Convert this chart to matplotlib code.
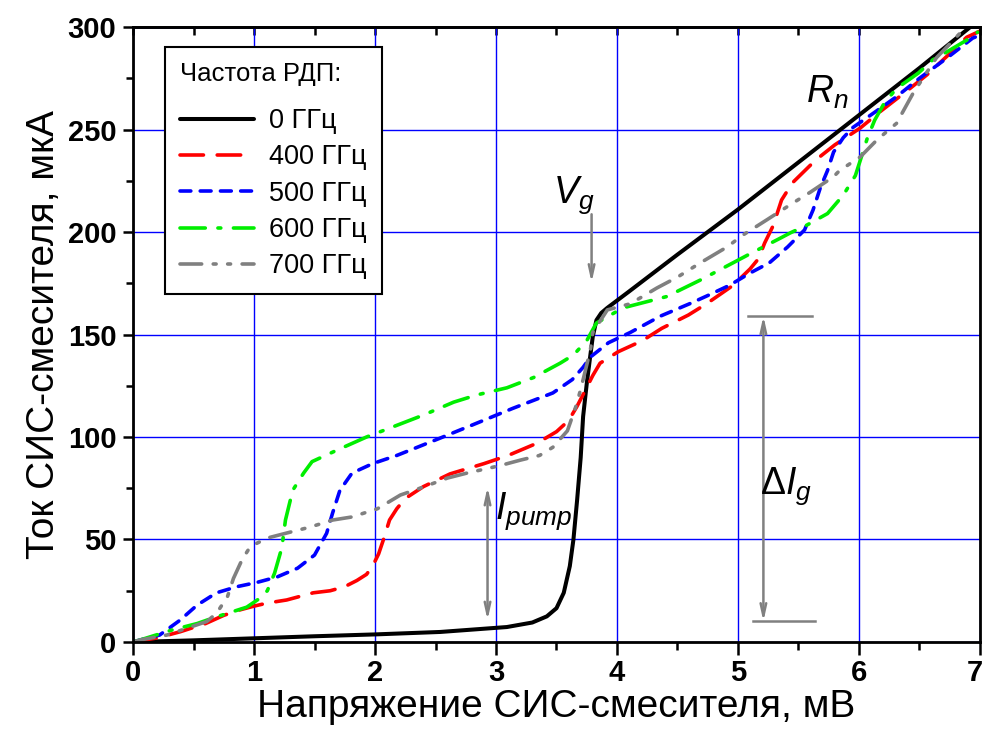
import numpy as np
import matplotlib
matplotlib.use('Agg')
import matplotlib.pyplot as plt
from matplotlib.ticker import MultipleLocator, FuncFormatter

plt.rcParams['font.family'] = ['Liberation Sans', 'DejaVu Sans']
plt.rcParams['mathtext.fontset'] = 'custom'
plt.rcParams['mathtext.it'] = 'Liberation Sans:italic'
plt.rcParams['mathtext.rm'] = 'Liberation Sans'

# ВАХ СИС-смесителя при разных частотах РДП (мВ, мкА)
V0 = [0, 0.5, 1, 1.5, 2, 2.54, 3.09, 3.3, 3.42, 3.50, 3.56, 3.61, 3.64, 3.67, 3.70,
      3.72, 3.75, 3.78, 3.80, 3.83, 3.87, 3.92, 4.1, 4.5, 5, 5.5, 6, 6.5, 6.92]
I0 = [0, 0.8, 1.8, 2.8, 3.7, 4.9, 7.3, 9.5, 12.5, 16.5, 24, 37, 50, 69, 90,
      110, 126, 140, 149, 157, 160.5, 163, 171, 189, 211, 234, 257, 280, 300]

V400 = [0, 0.2, 0.39, 0.6, 0.75, 0.88, 1.0, 1.11, 1.27, 1.49, 1.63, 1.75, 1.85,
        1.93, 1.98, 2.03, 2.07, 2.12, 2.18, 2.25, 2.40, 2.62, 2.9, 3.1, 3.34,
        3.50, 3.6, 3.67, 3.74, 3.80, 3.86, 4.01, 4.21, 4.37, 4.59, 4.74, 4.96,
        5.10, 5.17, 5.22, 5.29, 5.36, 5.45, 5.64, 5.80, 6.01, 6.17, 6.40, 6.56,
        6.75, 6.89, 7.0]
I400 = [0, 2, 5, 9, 13, 15.6, 17.5, 19, 20.5, 24, 25, 27, 30,
        33, 37, 43, 50, 59.5, 65, 70, 75.8, 82, 87, 91, 97,
        102.6, 108, 115, 123, 130, 136, 141.6, 147, 153, 159.5, 165, 174,
        182, 187, 194.6, 203, 215.6, 224, 235, 242.5, 250.7, 258.5, 269, 276.6,
        287, 295, 298]

V500 = [0, 0.06, 0.22, 0.39, 0.53, 0.69, 0.86, 1.02, 1.19, 1.36, 1.50, 1.60,
        1.65, 1.71, 1.81, 1.98, 2.18, 2.35, 2.54, 2.81, 3.14, 3.47, 3.63, 3.72,
        3.78, 3.93, 4.11, 4.36, 4.60, 4.75, 4.93, 5.10, 5.26, 5.41, 5.55, 5.62,
        5.68, 5.74, 5.79, 5.87, 5.95, 6.12, 6.31, 6.50, 6.73, 6.94, 7.0]
I500 = [0, 1, 3.4, 10.7, 18, 24, 27, 29, 31.7, 36, 42.4, 53,
        63, 74, 82.4, 87, 91, 95, 99.5, 106, 114, 121.5, 128, 134,
        139, 146, 151, 159, 165, 169, 174, 180, 185, 192.7, 201, 210.7,
        221.5, 230, 239, 246, 251, 258, 266, 275, 285, 294.6, 296]

V600 = [0, 0.06, 0.33, 0.53, 0.66, 0.94, 1.04, 1.11, 1.17, 1.23, 1.26, 1.32,
        1.41, 1.48, 1.69, 1.93, 2.15, 2.40, 2.65, 2.84, 3.09, 3.31, 3.53, 3.64,
        3.75, 3.83, 4.05, 4.41, 4.69, 4.96, 5.12, 5.35, 5.43, 5.57, 5.74, 5.87,
        5.97, 6.03, 6.07, 6.13, 6.21, 6.31, 6.49, 6.61, 6.73, 6.89, 6.98]
I600 = [0, 1, 6, 9, 11.7, 17, 21, 25, 33.6, 46, 59.5, 74,
        82.4, 88, 93.7, 100, 105, 110.7, 117, 120.5, 124, 129, 136, 140,
        147, 155.6, 163, 168.5, 176.6, 185, 190, 197, 199.5, 203.4, 209, 218,
        227.5, 238.5, 246, 254.6, 263, 270, 277.5, 284, 288, 293.6, 297.5]

V700 = [0, 0.06, 0.28, 0.45, 0.61, 0.69, 0.78, 0.83, 0.90, 0.97, 1.11, 1.26,
        1.46, 1.65, 1.81, 2.02, 2.21, 2.40, 2.60, 2.76, 3.03, 3.20, 3.36, 3.47,
        3.59, 3.67, 3.72, 3.78, 3.80, 3.92, 4.11, 4.33, 4.50, 4.69, 4.91, 5.04,
        5.24, 5.45, 5.60, 5.79, 5.84, 6.01, 6.15, 6.31, 6.45, 6.64, 6.78, 6.86]
I700 = [0, 1, 3.4, 6.8, 10, 14, 22, 31, 40, 46.6, 50.7, 53,
        56, 59.5, 61, 65, 71.7, 75.6, 80, 82.4, 86, 88.7, 91, 95,
        103, 116.6, 128, 142.4, 151, 162, 165, 172.7, 178, 185, 192.7, 198.5,
        206, 214, 219.5, 227, 230, 236.6, 245, 253, 268, 285, 293.6, 298.5]

labels = ['0 ГГц', '400 ГГц', '500 ГГц', '600 ГГц', '700 ГГц']

fig = plt.figure(figsize=(9.86, 7.44), dpi=100)
ax = fig.add_axes([0.1349, 0.1371, 0.8590, 0.8266])

lw = 2.6
ax.plot(V0, I0, color='black', lw=2.9, label=labels[0], solid_capstyle='round', solid_joinstyle='round')
ax.plot(V400, I400, color='#ff0000', lw=lw, ls=(0, (6.5, 3.8)), dash_capstyle='round', label=labels[1])
ax.plot(V500, I500, color='#0000ff', lw=lw, ls=(0, (3.0, 2.6)), dash_capstyle='round', label=labels[2])
ax.plot(V600, I600, color='#00ee00', lw=lw, ls=(0, (7, 3.5, 0.8, 3.5)), dash_capstyle='round', label=labels[3])
ax.plot(V700, I700, color='#808080', lw=lw, ls=(0, (6, 3.2, 0.8, 3.2, 0.8, 3.2)), dash_capstyle='round', label=labels[4])

xmax = 7
ax.set_xlim(0, xmax)
ax.set_ylim(0, 300)
ax.xaxis.set_major_locator(MultipleLocator(1))
ax.xaxis.set_minor_locator(MultipleLocator(0.5))
ax.yaxis.set_major_locator(MultipleLocator(50))
ax.yaxis.set_minor_locator(MultipleLocator(25))
# последняя подпись "7" у самого края рисунка — её ставим отдельно, чуть левее
ax.xaxis.set_major_formatter(FuncFormatter(lambda v, p: '' if v >= xmax else f'{v:g}'))
ax.grid(True, which='major', color='#0000ff', lw=1.0, zorder=0)
ax.set_axisbelow(True)

for s in ax.spines.values():
    s.set_linewidth(2.0)
ax.tick_params(axis='x', which='major', direction='out', length=9, width=1.8, pad=3,
               labelsize=21)
ax.tick_params(axis='x', which='minor', direction='out', length=6, width=1.8)
ax.tick_params(axis='y', which='major', direction='out', length=7, width=1.8, pad=5,
               labelsize=21)
ax.tick_params(axis='y', which='minor', direction='out', length=5, width=1.8)
# верхние риски внутрь
sec = ax.secondary_xaxis('top')
sec.xaxis.set_major_locator(MultipleLocator(0.5))
sec.tick_params(direction='in', length=6, width=1.8, labeltop=False)
sec.spines['top'].set_linewidth(2.0)
for t in ax.get_xticklabels() + ax.get_yticklabels():
    t.set_fontweight('bold')
ax.annotate(f'{xmax:g}', xy=(xmax, 0), xycoords=('data', 'axes fraction'),
            xytext=(-4, -12), textcoords='offset points', ha='center', va='top',
            fontsize=21, fontweight='bold', annotation_clip=False)

ax.set_xlabel('Напряжение СИС-смесителя, мВ', fontsize=28, labelpad=2)
ax.set_ylabel('Ток СИС-смесителя, мкА', fontsize=28, labelpad=4)

leg = ax.legend(loc='upper left', bbox_to_anchor=(0.0378, 0.9675), borderaxespad=0,
                title='Частота РДП:', title_fontsize=18.5, fontsize=19.5,
                fancybox=False, framealpha=1, edgecolor='black',
                handlelength=2.75, handletextpad=0.55, labelspacing=0.38,
                borderpad=0.55, alignment='left')
leg.get_frame().set_linewidth(1.5)
leg._legend_box.sep = 16

arrow_c = '#808080'
ax.annotate('', xy=(3.79, 174), xytext=(3.79, 210),
            arrowprops=dict(arrowstyle='->,head_length=0.9,head_width=0.2', color=arrow_c, lw=1.8))
ax.annotate('', xy=(2.93, 10.7), xytext=(2.93, 75.6),
            arrowprops=dict(arrowstyle='<->,head_length=0.9,head_width=0.2', color=arrow_c, lw=1.8,
                            shrinkA=0, shrinkB=0))
ax.annotate('', xy=(5.21, 10), xytext=(5.21, 159),
            arrowprops=dict(arrowstyle='<->,head_length=0.9,head_width=0.2', color=arrow_c, lw=1.8,
                            shrinkA=0, shrinkB=0))
ax.plot([5.08, 5.61], [159, 159], color=arrow_c, lw=1.8)
ax.plot([5.12, 5.64], [10, 10], color=arrow_c, lw=1.8)

ax.text(3.64, 218, r'$V_g$', fontsize=27, ha='center', va='center')
ax.text(5.74, 268, r'$R_n$', fontsize=27, ha='center', va='center')
ax.text(3.31, 64, r'$I_{pump}$', fontsize=27, ha='center', va='center')
ax.text(5.40, 76, r'$\mathrm{\Delta} I_g$', fontsize=27, ha='center', va='center')

fig.savefig('out.png', dpi=100)
